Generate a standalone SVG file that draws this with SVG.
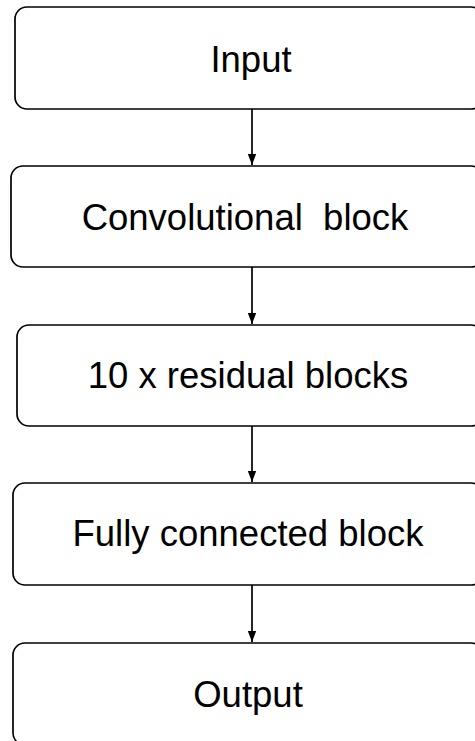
<svg xmlns="http://www.w3.org/2000/svg" width="475" height="741" viewBox="0 0 475 741">
  <defs>
    <marker id="arrow" markerWidth="12" markerHeight="12" refX="11" refY="5" orient="auto" markerUnits="userSpaceOnUse">
      <path d="M0,0.8 L11,5 L0,9.2 Z" fill="#000"/>
    </marker>
    <style>
      .box { fill: #fff; stroke: #000; stroke-width: 1.7; }
      .label { font-family: "Liberation Sans", Arial, sans-serif; font-size: 36.5px; fill: #000; text-anchor: middle; }
      .edge { stroke: #000; stroke-width: 1.7; fill: none; marker-end: url(#arrow); }
    </style>
  </defs>
  <rect width="475" height="741" fill="#fff"/>

  <g id="connectors">
    <line class="edge" x1="252" y1="109" x2="252" y2="165"/>
    <line class="edge" x1="252" y1="267" x2="252" y2="324"/>
    <line class="edge" x1="252" y1="426" x2="252" y2="482"/>
    <line class="edge" x1="252" y1="585" x2="252" y2="642"/>
  </g>

  <g id="input">
    <rect class="box" x="15" y="7" width="468" height="102" rx="12"/>
    <text class="label" x="251" y="72">Input</text>
  </g>
  <g id="conv">
    <rect class="box" x="11" y="166" width="472" height="101" rx="12"/>
    <text class="label" x="245" y="230" xml:space="preserve">Convolutional  block</text>
  </g>
  <g id="residual">
    <rect class="box" x="17" y="325" width="466" height="101" rx="12"/>
    <text class="label" x="248" y="388">10 x residual blocks</text>
  </g>
  <g id="fully">
    <rect class="box" x="13" y="483" width="470" height="102" rx="12"/>
    <text class="label" x="248" y="546">Fully connected block</text>
  </g>
  <g id="output">
    <rect class="box" x="13" y="643" width="470" height="102" rx="12"/>
    <text class="label" x="248" y="707">Output</text>
  </g>
</svg>
